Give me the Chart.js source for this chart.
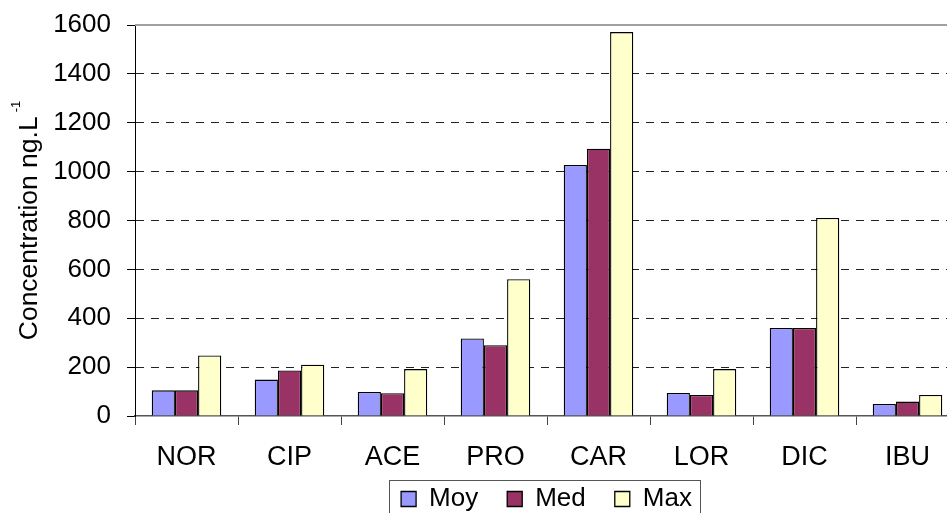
<!DOCTYPE html>
<html>
<head>
<meta charset="utf-8">
<script src="https://cdn.jsdelivr.net/npm/chart.js@4/dist/chart.umd.min.js"></script>
<style>
  html, body { margin: 0; padding: 0; background: #fff; overflow: hidden; }
  #wrap { width: 947px; height: 513px; overflow: hidden; position: relative; }
  #chart { display: block; }
</style>
</head>
<body>
<div id="wrap"><canvas id="chart" width="962" height="541"></canvas></div>
<script>
// values
const categories = ['NOR', 'CIP', 'ACE', 'PRO', 'CAR', 'LOR', 'DIC', 'IBU'];
const moyValues = [105, 149, 98, 317, 1027, 94, 360, 49];
const medValues = [105, 186, 93, 290, 1094, 86, 360, 59];
const maxValues = [248, 210, 192, 560, 1571, 192, 810, 86];
const seriesNames = ['Moy', 'Med', 'Max'];
const yTicks = [0, 200, 400, 600, 800, 1000, 1200, 1400, 1600];
const titleMain = 'Concentration ng.L';
const titleSup = '-1';

const FONT = '"Liberation Sans", Arial, Helvetica, sans-serif';

// y axis title with superscript, drawn rotated at the left
const yTitle = {
    id: 'yTitle',
    afterDraw(chart) {
        const ctx = chart.ctx;
        const a = chart.chartArea;
        ctx.save();
        ctx.font = '26.5px ' + FONT;
        const w1 = ctx.measureText(titleMain).width;
        ctx.font = '13px ' + FONT;
        const w2 = ctx.measureText(titleSup).width;
        const gap = 4;
        const total = w1 + gap + w2;
        ctx.translate(37, (a.top + a.bottom) / 2);
        ctx.rotate(-Math.PI / 2);
        ctx.fillStyle = '#000';
        ctx.textAlign = 'left';
        ctx.textBaseline = 'alphabetic';
        ctx.font = '26.5px ' + FONT;
        ctx.fillText(titleMain, -total / 2, 0);
        ctx.font = '13px ' + FONT;
        ctx.fillText(titleSup, -total / 2 + w1 + gap, -17);
        ctx.restore();
    }
};

// the legend sits a bit right of centre and closer to the labels in the original
const legendPlace = {
    id: 'legendPlace',
    afterLayout(chart) {
        const lg = chart.legend;
        lg.left += 67;
        lg.right += 67;
        lg.top = 457;
        lg.bottom = lg.top + lg.height;
    }
};

// grey top edge of the plot area and a frame round the legend
const frames = {
    id: 'frames',
    afterDraw(chart) {
        const ctx = chart.ctx;
        const a = chart.chartArea;
        ctx.save();
        ctx.strokeStyle = '#a0a0a0';
        ctx.lineWidth = 2;
        ctx.beginPath();
        ctx.moveTo(a.left, a.top);
        ctx.lineTo(a.right, a.top);
        ctx.stroke();

        const lg = chart.legend;
        const pad = lg.options.labels.padding;
        const lw = lg.lineWidths[0];
        const start = (lg.left + pad + lg.right - lw) / 2;
        const end = start + lw - pad;
        ctx.strokeStyle = '#555';
        ctx.lineWidth = 1;
        ctx.strokeRect(Math.round(start - 12) + 0.5, Math.round(lg.top + 23) + 0.5,
            Math.round(end - start + 20), 60);
        ctx.restore();
    }
};

new Chart(document.getElementById('chart'), {
    type: 'bar',
    data: {
        labels: categories,
        datasets: [{
            label: seriesNames[0],
            data: moyValues,
            backgroundColor: '#9999FF',
            borderColor: '#000',
            borderWidth: 1.3
        }, {
            label: seriesNames[1],
            data: medValues,
            backgroundColor: '#993366',
            borderColor: '#000',
            borderWidth: 1.3
        }, {
            label: seriesNames[2],
            data: maxValues,
            backgroundColor: '#FFFFCC',
            borderColor: '#000',
            borderWidth: 1.3
        }]
    },
    plugins: [yTitle, legendPlace, frames],
    options: {
        responsive: false,
        animation: false,
        events: [],
        layout: {
            padding: { left: 0, right: 3, top: 25, bottom: 0 }
        },
        datasets: {
            bar: { categoryPercentage: 0.675, barPercentage: 1.0 }
        },
        plugins: {
            tooltip: { enabled: false },
            legend: {
                position: 'bottom',
                align: 'center',
                labels: {
                    boxWidth: 15,
                    boxHeight: 15,
                    padding: 29,
                    color: '#000',
                    font: { family: FONT, size: 26 }
                }
            }
        },
        scales: {
            x: {
                grid: {
                    offset: true,
                    drawOnChartArea: false,
                    drawTicks: true,
                    tickLength: 9,
                    tickColor: '#444',
                    color: '#444'
                },
                border: { display: true, color: '#555', width: 1.5 },
                ticks: {
                    color: '#000',
                    padding: 16,
                    maxRotation: 0,
                    font: { family: FONT, size: 27 }
                },
                afterFit(scale) { scale.height = 60; }
            },
            y: {
                min: 0,
                max: 1600,
                afterBuildTicks(scale) { scale.ticks = yTicks.map(v => ({ value: v })); },
                grid: {
                    color: c => (c.tick && (c.tick.value === 0 || c.tick.value === 1600)) ? 'rgba(0,0,0,0)' : '#222',
                    lineWidth: 1,
                    tickLength: 8,
                    tickColor: '#000',
                    tickBorderDash: []
                },
                border: { display: true, color: '#000', width: 1, dash: [8, 7] },
                ticks: {
                    color: '#000',
                    padding: 16,
                    font: { family: FONT, size: 26, lineHeight: 0.5 },
                    callback: v => String(v)
                },
                afterFit(scale) { scale.width = 135; }
            }
        }
    }
});
</script>
</body>
</html>
